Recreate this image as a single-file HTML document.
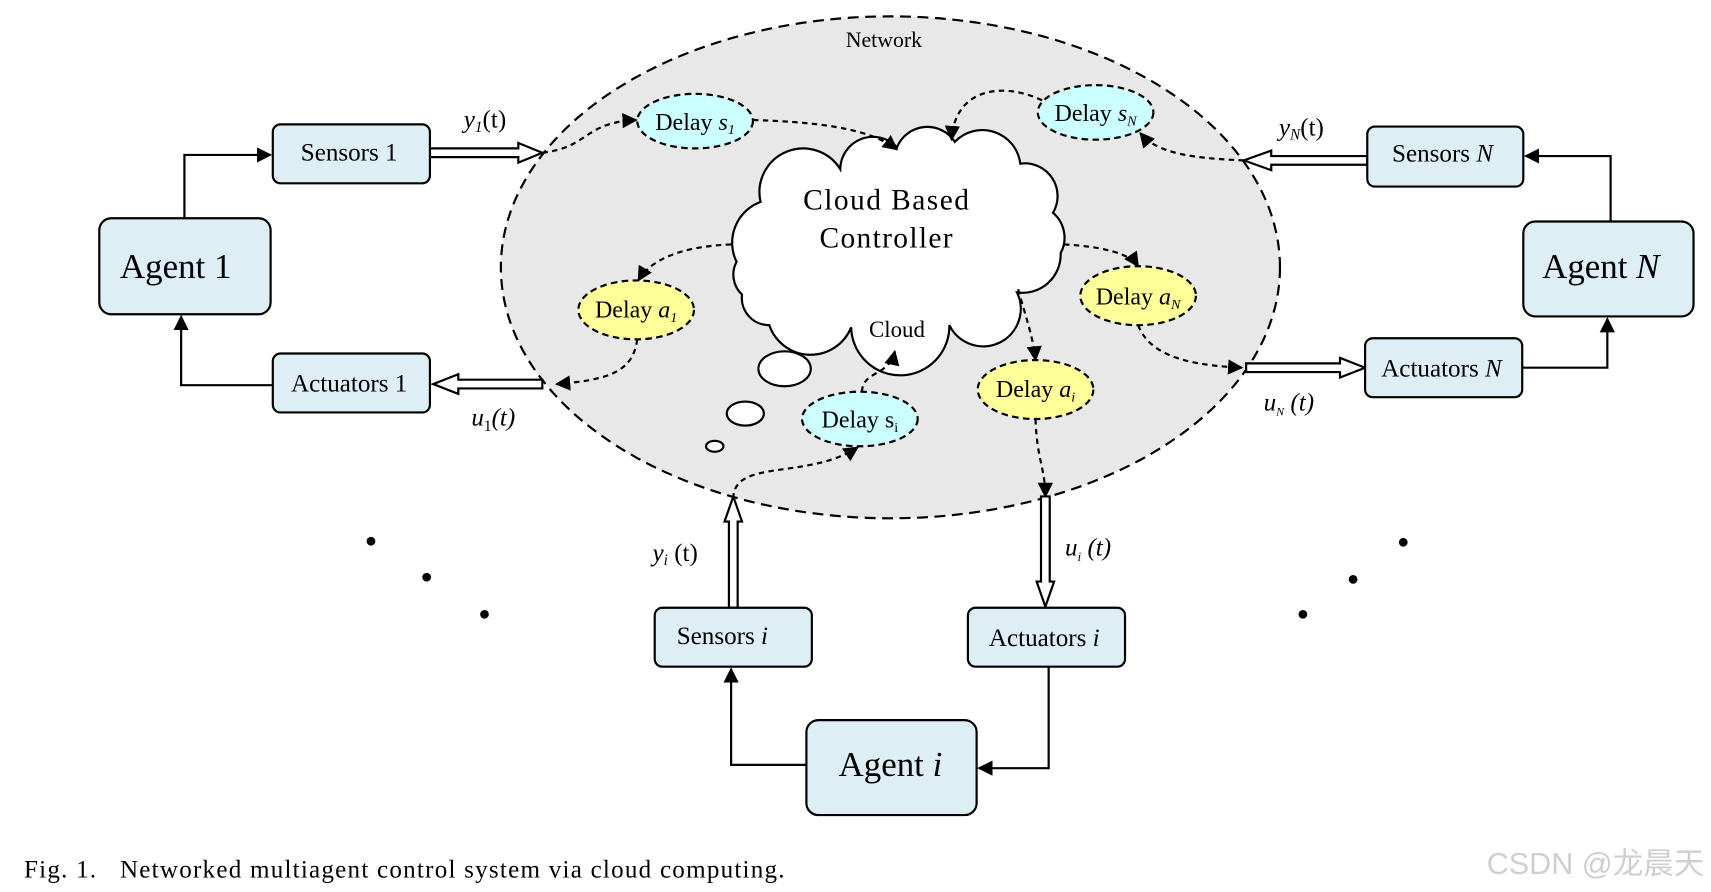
<!DOCTYPE html>
<html><head><meta charset="utf-8"><style>
html,body{margin:0;padding:0;background:#fff;}
svg{display:block;font-family:"Liberation Serif","Noto Serif CJK SC",serif;}
</style></head><body>
<svg width="1711" height="892" viewBox="0 0 1568 817.5" preserveAspectRatio="none" xmlns="http://www.w3.org/2000/svg">
<defs>
<marker id="ar" viewBox="0 0 10 10" refX="9" refY="5" markerWidth="7" markerHeight="7" orient="auto"><path d="M0,0 L10,5 L0,10 z" fill="#000"/></marker>
</defs>
<ellipse cx="816" cy="245" rx="357" ry="230" fill="#e8e8e8" stroke="#000" stroke-width="2" stroke-dasharray="10,6"/>
<text x="810" y="43" font-size="20" text-anchor="middle">Network</text>

<path d="M697,185 A40,40 0 0 1 770,155 A30,30 0 0 1 822,135 A30,30 0 0 1 875,130 A35,35 0 0 1 935,150 A30,30 0 0 1 965,195 A30,30 0 0 1 972,232 A35,35 0 0 1 932,268 A30,30 0 0 1 870,298 A35,35 0 0 1 780,300 A40,40 0 0 1 705,298 A25,25 0 0 1 680,270 A25,25 0 0 1 675,240 A40,40 0 0 1 697,185 z" fill="#fff" stroke="#000" stroke-width="2"/>
<text x="812" y="192" font-size="27" text-anchor="middle" textLength="152">Cloud Based</text>
<text x="812" y="227" font-size="27" text-anchor="middle" textLength="122">Controller</text>
<text x="822" y="309" font-size="21" text-anchor="middle">Cloud</text>
<ellipse cx="719" cy="338" rx="24" ry="16" fill="#fff" stroke="#000" stroke-width="2"/>
<ellipse cx="683" cy="379" rx="17" ry="11" fill="#fff" stroke="#000" stroke-width="2"/>
<ellipse cx="655" cy="409" rx="8" ry="5" fill="#fff" stroke="#000" stroke-width="2"/>

<g stroke="#000" stroke-width="2" stroke-dasharray="6,4">
<ellipse cx="637" cy="111" rx="53" ry="25" fill="#ccffff"/>
<ellipse cx="1004" cy="103" rx="53" ry="25" fill="#ccffff"/>
<ellipse cx="788" cy="384" rx="53" ry="25" fill="#ccffff"/>
<ellipse cx="583" cy="284" rx="53" ry="27" fill="#ffff99"/>
<ellipse cx="1043" cy="271" rx="53" ry="27" fill="#ffff99"/>
<ellipse cx="949" cy="357" rx="53" ry="27" fill="#ffff99"/>
</g>
<g font-size="22" text-anchor="middle">
<text x="637" y="119">Delay <tspan font-style="italic">s</tspan><tspan font-size="13" font-style="italic" dy="4">1</tspan></text>
<text x="1004" y="111">Delay <tspan font-style="italic">s</tspan><tspan font-size="13" font-style="italic" dy="4">N</tspan></text>
<text x="788" y="392">Delay s<tspan font-size="13" dy="4">i</tspan></text>
<text x="583" y="291">Delay <tspan font-style="italic">a</tspan><tspan font-size="13" font-style="italic" dy="4">1</tspan></text>
<text x="1043" y="279">Delay <tspan font-style="italic">a</tspan><tspan font-size="13" font-style="italic" dy="4">N</tspan></text>
<text x="949" y="364">Delay <tspan font-style="italic">a</tspan><tspan font-size="13" font-style="italic" dy="4">i</tspan></text>
</g>

<g fill="none" stroke="#000" stroke-width="2" stroke-dasharray="5,4" marker-end="url(#ar)">
<path d="M497,140 C540,135 535,112 583,110"/>
<path d="M690,110 C760,112 800,120 822,137"/>
<path d="M1140,147 C1090,145 1060,140 1045,122"/>
<path d="M955,92 C920,75 875,80 872,128"/>
<path d="M670,224 C620,226 595,240 585,257"/>
<path d="M584,311 C580,340 560,348 510,352"/>
<path d="M975,224 C1010,226 1035,232 1043,244"/>
<path d="M1043,298 C1055,330 1100,335 1138,337"/>
<path d="M933,265 C940,290 947,310 949,330"/>
<path d="M949,384 C950,420 958,430 958,455"/>
<path d="M672,457 C672,420 740,440 786,410"/>
<path d="M790,359 C790,340 815,345 820,322"/>
</g>

<g fill="#fff" stroke="#000" stroke-width="2">
<path d="M394,136 L475,136 L475,131 L497,140 L475,149 L475,144 L394,144 z"/>
<path d="M497,348 L420,348 L420,343 L397,352 L420,361 L420,356 L497,356 z"/>
<path d="M1253,143 L1165,143 L1165,138 L1140,147 L1165,156 L1165,151 L1253,151 z"/>
<path d="M1142,333 L1228,333 L1228,328 L1251,337 L1228,346 L1228,341 L1142,341 z"/>
<path d="M668,557 L668,478 L664,478 L672,455 L680,478 L676,478 L676,557 z"/>
<path d="M954,455 L954,533 L950,533 L958,556 L966,533 L962,533 L962,455 z"/>
</g>

<g fill="#ddeef4" stroke="#000" stroke-width="2">
<rect x="250" y="114" width="144" height="54" rx="7"/>
<rect x="91" y="200" width="157" height="88" rx="11"/>
<rect x="250" y="324" width="144" height="54" rx="7"/>
<rect x="1253" y="116" width="143" height="55" rx="7"/>
<rect x="1396" y="203" width="156" height="87" rx="11"/>
<rect x="1251" y="310" width="144" height="54" rx="7"/>
<rect x="600" y="557" width="144" height="54" rx="7"/>
<rect x="887" y="557" width="144" height="54" rx="7"/>
<rect x="739" y="660" width="156" height="87" rx="11"/>
</g>
<g font-size="23" text-anchor="middle">
<text x="320" y="147">Sensors 1</text>
<text x="320" y="359">Actuators 1</text>
<text x="1322" y="148">Sensors <tspan font-style="italic">N</tspan></text>
<text x="1321" y="345">Actuators <tspan font-style="italic">N</tspan></text>
<text x="662" y="590">Sensors <tspan font-style="italic">i</tspan></text>
<text x="957" y="592">Actuators <tspan font-style="italic">i</tspan></text>
</g>
<g font-size="32" text-anchor="middle">
<text x="161" y="255">Agent 1</text>
<text x="1467" y="255">Agent <tspan font-style="italic">N</tspan></text>
<text x="816" y="711">Agent <tspan font-style="italic">i</tspan></text>
</g>

<g fill="none" stroke="#000" stroke-width="2" marker-end="url(#ar)">
<path d="M169,200 L169,142 L248,142"/>
<path d="M250,353 L166,353 L166,290"/>
<path d="M1476,203 L1476,143 L1398,143"/>
<path d="M1395,337 L1473,337 L1473,292"/>
<path d="M739,701 L670,701 L670,613"/>
<path d="M961,611 L961,704 L897,704"/>
</g>

<g font-size="23" font-style="italic">
<text x="425" y="117">y<tspan font-size="14" dy="4">1</tspan><tspan font-style="normal" dy="-4">(t)</tspan></text>
<text x="432" y="390">u<tspan font-size="14" font-style="normal" dy="5">1</tspan><tspan dy="-5">(t)</tspan></text>
<text x="1172" y="124">y<tspan font-size="14" dy="4">N</tspan><tspan font-style="normal" dy="-4">(t)</tspan></text>
<text x="1158" y="376">u<tspan font-size="11" dy="5">N</tspan><tspan dy="-5"> (t)</tspan></text>
<text x="598" y="514">y<tspan font-size="14" dy="4">i</tspan><tspan font-style="normal" dy="-4"> (t)</tspan></text>
<text x="976" y="509">u<tspan font-size="12" dy="5">i</tspan><tspan dy="-5"> (t)</tspan></text>
</g>

<g fill="#000">
<circle cx="340" cy="496" r="4"/><circle cx="391" cy="529" r="4"/><circle cx="444" cy="563" r="4"/>
<circle cx="1286" cy="497" r="4"/><circle cx="1240" cy="531" r="4"/><circle cx="1194" cy="563" r="4"/>
</g>

<text x="22" y="804" font-size="23" textLength="697" lengthAdjust="spacing">Fig. 1.&#160;&#160;&#160;Networked multiagent control system via cloud computing.</text>
<text x="1562" y="801" font-size="28" text-anchor="end" fill="#cfcfcf" font-family="Liberation Sans,'Noto Sans CJK SC',sans-serif">CSDN @龙晨天</text>
</svg>
</body></html>
